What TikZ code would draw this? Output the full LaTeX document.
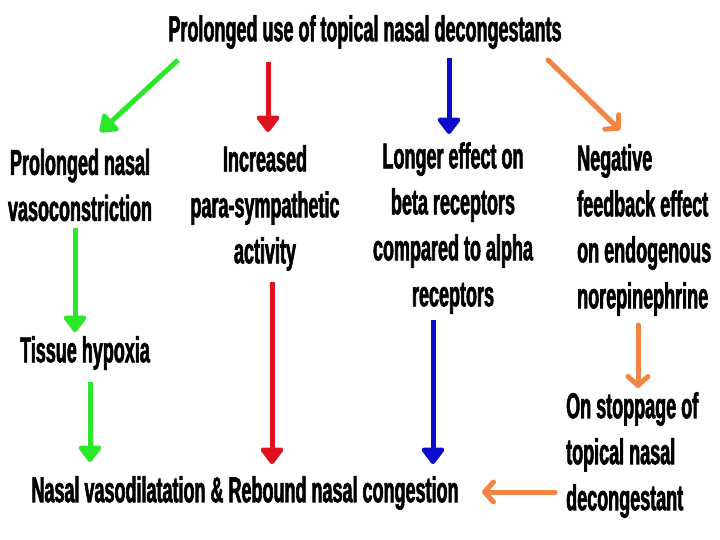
\documentclass[tikz,border=0pt]{standalone}
\usepackage{fontspec}
\setmainfont{Liberation Sans}[FakeStretch=0.5, BoldFeatures={FakeBold=1.6}]
\usetikzlibrary{arrows.meta}

\definecolor{dgreen}{RGB}{40,232,40}
\definecolor{dred}{RGB}{222,18,30}
\definecolor{dblue}{RGB}{12,12,205}
\definecolor{dorange}{RGB}{242,132,70}

\tikzset{
  txt/.style={font=\fontsize{36}{46}\selectfont\bfseries, align=center, inner sep=0pt},
  fat/.style={line width=5pt, -{Triangle[length=18pt 0,width=26pt 0,round]}},
  barb/.style={line width=5pt, line cap=round, -{Straight Barb[length=9pt 0,width=20pt 0,round]}}
}

\begin{document}
\begin{tikzpicture}[x=1pt,y=-1pt]

\useasboundingbox (0,0) rectangle (720,540);

\node [txt] (title) at (365,32) {Prolonged use of topical nasal decongestants};

\node [txt] (vaso) at (80,185) {Prolonged nasal\\vasoconstriction};
\node [txt] (para) at (265,208) {Increased\\para-sympathetic\\activity};
\node [txt] (beta) at (453,228) {Longer effect on\\beta receptors\\compared to alpha\\receptors};
\node [txt, align=left, anchor=west] (nore) at (577,230) {Negative\\feedback effect\\on endogenous\\norepinephrine};

\node [txt] (hypo) at (85,353) {Tissue hypoxia};
\node [txt, align=left, anchor=west] (stop) at (566,455) {On stoppage of\\topical nasal\\decongestant};
\node [txt] (cong) at (245,493) {Nasal vasodilatation \& Rebound nasal congestion};

% arrow ends
\coordinate (t1) at (178,60);   \coordinate (v1) at (100,132);
\coordinate (t2) at (268,62);   \coordinate (p1) at (268,132);
\coordinate (t3) at (449,58);   \coordinate (b1) at (449,134);
\coordinate (t4) at (548,60);   \coordinate (n1) at (620,130);
\coordinate (v2) at (75,228);   \coordinate (h1) at (75,332);
\coordinate (h2) at (90,382);   \coordinate (c1) at (90,462);
\coordinate (p2) at (272,282);  \coordinate (c2) at (272,464);
\coordinate (b2) at (433,320);  \coordinate (c3) at (433,464);
\coordinate (n2) at (638,325);  \coordinate (s1) at (638,388);
\coordinate (s2) at (555,492);  \coordinate (c4) at (482,492);

\draw [fat, dgreen] (t1) -- (v1);
\draw [fat, dred] (t2) -- (p1);
\draw [fat, dblue] (t3) -- (b1);
\draw [barb, dorange] (t4) -- (n1);

\draw [fat, dgreen] (v2) -- (h1);
\draw [fat, dgreen] (h2) -- (c1);
\draw [fat, dred] (p2) -- (c2);
\draw [fat, dblue] (b2) -- (c3);
\draw [barb, dorange] (n2) -- (s1);
\draw [barb, dorange] (s2) -- (c4);

\end{tikzpicture}
\end{document}
